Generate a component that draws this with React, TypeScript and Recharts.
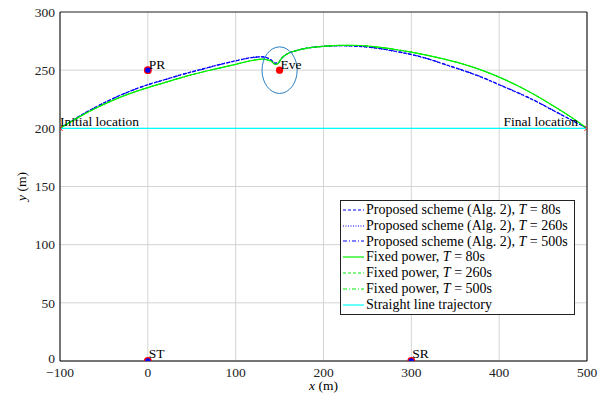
import React from 'react';
import { ComposedChart, Line, Scatter, XAxis, YAxis, CartesianGrid, ReferenceLine, Legend } from 'recharts';

const xs = [-100, -80, -60, -40, -20, 0, 20, 40, 60, 80, 100, 120, 130, 140, 145, 148, 152, 160, 170, 180, 200, 220, 240, 260, 280, 300, 320, 340, 360, 380, 400, 420, 440, 460, 480, 500];

const proposed80 = [200, 209.5, 218, 225.5, 232, 237.5, 242, 246.5, 250.5, 254.5, 258, 261, 261.5, 259, 256, 256, 260, 264.5, 267, 268.8, 270.5, 271, 270.5, 269, 266.5, 263.5, 259.5, 254.5, 249.5, 244, 237.5, 231, 224, 216, 208, 200];
const proposed260 = [200, 209.6, 218.2, 225.7, 232.2, 237.7, 242.2, 246.7, 250.7, 254.7, 258.2, 261.2, 261.6, 259, 256, 256, 260, 264.5, 267, 268.8, 270.5, 271, 270.4, 268.8, 266.2, 263.2, 259.2, 254.2, 249.2, 243.7, 237.2, 230.7, 223.7, 215.8, 207.9, 200];
const proposed500 = [200, 209.4, 217.9, 225.4, 231.9, 237.3, 241.8, 246.3, 250.3, 254.3, 257.9, 260.9, 261.4, 259, 256, 256, 260, 264.5, 267, 268.8, 270.5, 271.1, 270.6, 269.1, 266.6, 263.6, 259.6, 254.7, 249.7, 244.2, 237.7, 231.2, 224.2, 216.2, 208.1, 200];
const fixed80 = [200, 209, 217, 224, 230, 235, 239.5, 244, 248, 251.5, 255, 258.5, 259.5, 258, 255, 255.5, 260, 264.5, 267, 268.8, 270.5, 271.3, 271.2, 270, 268, 265.5, 262.5, 259, 255, 250, 244, 237, 229, 220, 210.5, 200];
const fixed260 = [200, 209, 217, 224, 230, 235, 239.5, 244, 248, 251.5, 255, 258.5, 259.5, 258, 255, 255.5, 260, 264.5, 267, 268.8, 270.5, 271.3, 271.2, 270, 268, 265.5, 262.5, 259, 255, 250, 244, 237, 229, 220, 210.5, 200];
const fixed500 = [200, 209, 217, 224, 230, 235, 239.5, 244, 248, 251.5, 255, 258.5, 259.5, 258, 255, 255.5, 260, 264.5, 267, 268.8, 270.5, 271.3, 271.2, 270, 268, 265.5, 262.5, 259, 255, 250, 244, 237, 229, 220, 210.5, 200];

const straightXs = [-100, 500];
const straightYs = [200, 200];

const xTicks = [-100, 0, 100, 200, 300, 400, 500];
const yTicks = [0, 50, 100, 150, 200, 250, 300];

const nodeNames = ['PR', 'ST', 'SR'];
const nodeXs = [0, 0, 300];
const nodeYs = [250, 0, 0];

const eveNames = ['Eve'];
const eveXs = [150];
const eveYs = [250];
const eveRadius = 20;

const endNames = ['Initial location', 'Final location'];
const endXs = [-100, 500];
const endYs = [200, 200];

const trajData = xs.map((x, i) => ({
  x,
  p80: proposed80[i],
  p260: proposed260[i],
  p500: proposed500[i],
  f80: fixed80[i],
  f260: fixed260[i],
  f500: fixed500[i],
}));
const straightData = straightXs.map((x, i) => ({ x, s: straightYs[i] }));
const nodeData = nodeNames.map((name, i) => ({ name, x: nodeXs[i], y: nodeYs[i] }));
const eveData = eveNames.map((name, i) => ({ name, x: eveXs[i], y: eveYs[i] }));
const endData = endNames.map((name, i) => ({ name, x: endXs[i], y: endYs[i] }));

const FONT = 'Liberation Serif, Times New Roman, serif';
const W = 612;
const H = 401;
const margin = { top: 12, right: 25, left: 0, bottom: 0 };
const Y_W = 60;
const X_H = 40;
const plotW = W - margin.left - margin.right - Y_W;
const plotH = H - margin.top - margin.bottom - X_H;

const BLUE = '#0000ff';
const GREEN = '#00ee00';
const CYAN = '#00ffff';

const series = [
  { key: 'p80', label: 'Proposed scheme (Alg. 2), ', t: '80s', color: BLUE, dash: '3 2', w: 1.2 },
  { key: 'p260', label: 'Proposed scheme (Alg. 2), ', t: '260s', color: BLUE, dash: '1 1.5', w: 1 },
  { key: 'p500', label: 'Proposed scheme (Alg. 2), ', t: '500s', color: BLUE, dash: '4 2 1 2', w: 1 },
  { key: 'f80', label: 'Fixed power, ', t: '80s', color: GREEN, dash: undefined, w: 1.2 },
  { key: 'f260', label: 'Fixed power, ', t: '260s', color: GREEN, dash: '3 2', w: 1 },
  { key: 'f500', label: 'Fixed power, ', t: '500s', color: GREEN, dash: '4 2 1 2', w: 1 },
];

const fmt = (v: number) => String(v).replace('-', '\u2212');

const YTick = (props: any) => {
  const { x, y, payload } = props;
  const shift = payload.value === 0 ? -3 : 0;
  return (
    <text x={x} y={y + shift} dy="0.355em" textAnchor="end" fontSize={13.5} fontFamily={FONT} fill="#222">
      {fmt(payload.value)}
    </text>
  );
};

const NodeShape = (props: any) => {
  const { cx, cy, payload } = props;
  return (
    <g>
      <circle cx={cx} cy={cy} r={3.3} fill={BLUE} stroke="#ff0000" strokeWidth={1.3} />
      <text x={cx + 1} y={payload.y === 0 ? cy - 3 : cy - 1} fontSize={13.5} fontFamily={FONT} fill="#000">
        {payload.name}
      </text>
    </g>
  );
};

const EveShape = (props: any) => {
  const { cx, cy, payload } = props;
  const rx = (eveRadius * plotW) / 600;
  const ry = (eveRadius * plotH) / 300;
  return (
    <g>
      <ellipse cx={cx} cy={cy} rx={rx} ry={ry} fill="none" stroke="#2a7fc4" strokeWidth={1} />
      <circle cx={cx} cy={cy} r={3.6} fill="#ff0000" />
      <text x={cx + 1} y={cy - 1} fontSize={13.5} fontFamily={FONT} fill="#000">
        {payload.name}
      </text>
    </g>
  );
};

const EndShape = (props: any) => {
  const { cx, cy, payload } = props;
  const first = payload.x < 0;
  return (
    <g>
      <line x1={cx - 2.5} y1={cy - 2.5} x2={cx + 2.5} y2={cy + 2.5} stroke="#ff0000" strokeWidth={1} />
      <line x1={cx - 2.5} y1={cy + 2.5} x2={cx + 2.5} y2={cy - 2.5} stroke="#ff0000" strokeWidth={1} />
      <text
        x={first ? cx : cx - 9}
        y={cy - 2}
        textAnchor={first ? 'start' : 'end'}
        fontSize={13.5}
        fontFamily={FONT}
        fill="#000"
      >
        {payload.name}
      </text>
    </g>
  );
};

const LegendBox = () => (
  <div
    style={{
      border: '1px solid #222',
      background: '#fff',
      fontFamily: FONT,
      fontSize: 14,
      lineHeight: '16px',
      padding: '1px 6px 1px 2px',
      color: '#000',
      whiteSpace: 'nowrap',
    }}
  >
    {series.map((s) => (
      <div key={s.key} style={{ display: 'flex', alignItems: 'center', height: 15.8 }}>
        <svg width={21} height={10} style={{ marginRight: 2 }}>
          <line x1={0} y1={5} x2={21} y2={5} stroke={s.color} strokeWidth={1.2} strokeDasharray={s.dash} />
        </svg>
        <span>
          {s.label}
          <i>T</i> = {s.t}
        </span>
      </div>
    ))}
    <div style={{ display: 'flex', alignItems: 'center', height: 15.8 }}>
      <svg width={21} height={10} style={{ marginRight: 2 }}>
        <line x1={0} y1={5} x2={21} y2={5} stroke={CYAN} strokeWidth={1.2} />
      </svg>
      <span>Straight line trajectory</span>
    </div>
  </div>
);

const XLabel = (props: any) => {
  const { viewBox } = props;
  return (
    <text x={viewBox.x + viewBox.width / 2} y={H - 11} textAnchor="middle" fontSize={13.5} fontFamily={FONT} fill="#000">
      <tspan fontStyle="italic">x</tspan> (m)
    </text>
  );
};

const YLabel = (props: any) => {
  const { viewBox } = props;
  const cy = viewBox.y + viewBox.height / 2;
  return (
    <text x={26} y={cy} textAnchor="middle" fontSize={13.5} fontFamily={FONT} fill="#000" transform={`rotate(-90 26 ${cy})`}>
      <tspan fontStyle="italic">y</tspan> (m)
    </text>
  );
};

export default function App() {
  return (
    <div style={{ position: 'absolute', left: 0, top: 0, width: W, height: H, background: '#fff' }}>
      <ComposedChart width={W} height={H} data={trajData} margin={margin}>
        <CartesianGrid stroke="#d4d4d4" strokeWidth={1} />
        <XAxis
          dataKey="x"
          type="number"
          domain={[-100, 500]}
          ticks={xTicks}
          allowDataOverflow
          height={X_H}
          tickFormatter={fmt}
          tickLine={false}
          tickSize={5}
          tickMargin={1}
          axisLine={{ stroke: '#000', strokeWidth: 1 }}
          tick={{ fill: '#222', fontSize: 13.5, fontFamily: FONT }}
          label={<XLabel />}
        />
        <YAxis
          type="number"
          domain={[0, 300]}
          ticks={yTicks}
          allowDataOverflow
          width={Y_W}
          tickLine={false}
          tickSize={4}
          tickMargin={1}
          axisLine={{ stroke: '#000', strokeWidth: 1 }}
          tick={<YTick />}
          label={<YLabel />}
        />
        <ReferenceLine y={300} stroke="#333" strokeWidth={1} ifOverflow="extendDomain" />
        <ReferenceLine x={500} stroke="#000" strokeWidth={1} ifOverflow="extendDomain" />
        {series.map((s) => (
          <Line
            key={s.key}
            dataKey={s.key}
            type="monotone"
            stroke={s.color}
            strokeWidth={s.w}
            strokeDasharray={s.dash}
            dot={false}
            activeDot={false}
            isAnimationActive={false}
          />
        ))}
        <Line
          data={straightData}
          dataKey="s"
          type="linear"
          stroke={CYAN}
          strokeWidth={1.2}
          dot={false}
          activeDot={false}
          isAnimationActive={false}
        />
        <Scatter data={eveData} dataKey="y" shape={<EveShape />} isAnimationActive={false} />
        <Scatter data={nodeData} dataKey="y" shape={<NodeShape />} isAnimationActive={false} />
        <Scatter data={endData} dataKey="y" shape={<EndShape />} isAnimationActive={false} />
        <Legend
          layout="vertical"
          align="center"
          verticalAlign="middle"
          content={<LegendBox />}
          wrapperStyle={{ position: 'absolute', left: 340, top: 200, width: 'auto', height: 'auto' }}
        />
      </ComposedChart>
    </div>
  );
}
